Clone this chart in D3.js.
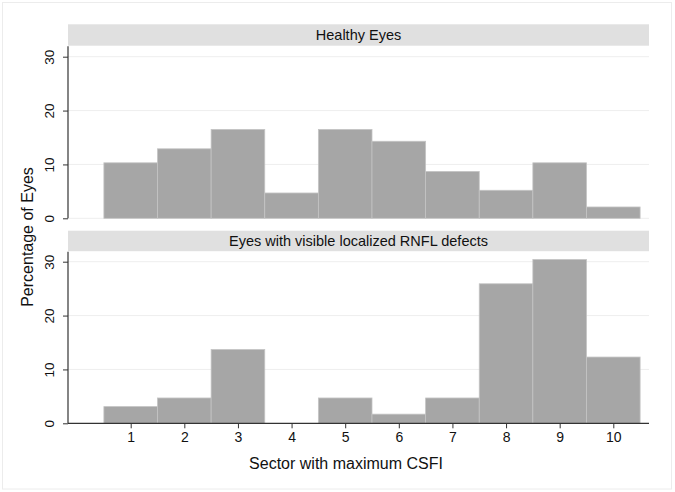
<!DOCTYPE html>
<html><head><meta charset="utf-8">
<script src="https://cdn.jsdelivr.net/npm/d3@7"></script>
<style>body{margin:0;background:#fff}svg{display:block}</style>
</head><body>
<script>
const sectors = [1,2,3,4,5,6,7,8,9,10];
const healthy = [10.3, 12.9, 16.5, 4.7, 16.5, 14.3, 8.7, 5.2, 10.3, 2.1];
const defects = [3.1, 4.7, 13.7, 0, 4.7, 1.7, 4.7, 25.9, 30.4, 12.3];
const yTicks = [0, 10, 20, 30];
const panelTitles = ["Healthy Eyes", "Eyes with visible localized RNFL defects"];

const W = 675, H = 492;
const font = "'Liberation Sans', Arial, Helvetica, sans-serif";
const svg = d3.select("body").append("svg").attr("width", W).attr("height", H);

svg.append("rect").attr("x", 2.5).attr("y", 2.5).attr("width", 669).attr("height", 486.5)
  .attr("fill", "#fff").attr("stroke", "#ececec");

const left = 68, right = 649;
const x = d3.scaleLinear().domain([1, 10]).range([130.7, 613.3]);

const panels = [
  {data: healthy, title: panelTitles[0], stripTop: 24.3, stripBot: 45.7, y0: 218.3, y30: 56.7, xaxis: false},
  {data: defects, title: panelTitles[1], stripTop: 230.7, stripBot: 251.2, y0: 423.3, y30: 261.7, xaxis: true}
];

panels.forEach(p => {
  const y = d3.scaleLinear().domain([0, 30]).range([p.y0, p.y30]);
  const g = svg.append("g");
  g.append("rect").attr("x", left).attr("y", p.stripTop).attr("width", right - left)
    .attr("height", p.stripBot - p.stripTop).attr("fill", "#e0e0e0");
  g.append("text").attr("x", (left + right) / 2).attr("y", (p.stripTop + p.stripBot) / 2 + 5)
    .attr("text-anchor", "middle").attr("font-family", font).attr("font-size", 14.5)
    .attr("fill", "#111").text(p.title);
  g.selectAll(".grid").data(yTicks.filter(t => p.xaxis ? t > 0 : true)).enter().append("line")
    .attr("x1", left).attr("x2", right).attr("y1", d => y(d)).attr("y2", d => y(d))
    .attr("stroke", "#eeeeee").attr("stroke-width", 1);
  g.selectAll(".bar").data(sectors).enter().append("rect")
    .attr("x", d => x(d - 0.5)).attr("width", d => x(d + 0.5) - x(d - 0.5))
    .attr("y", (d, i) => y(p.data[i])).attr("height", (d, i) => y(0) - y(p.data[i]))
    .attr("fill", "#a6a6a6").attr("stroke", "#c4c4c4").attr("stroke-width", 0.8);
  const ya = g.append("g").attr("transform", `translate(${left},0)`)
    .call(d3.axisLeft(y).tickValues(yTicks).tickSize(5).tickPadding(4).tickSizeOuter(0));
  ya.select(".domain").remove();
  ya.selectAll(".tick line").attr("stroke", "#333");
  ya.selectAll(".tick text").attr("font-family", font).attr("font-size", 13.5).attr("fill", "#111")
    .attr("transform", "rotate(-90)").attr("text-anchor", "middle")
    .attr("x", 0).attr("y", -18).attr("dy", "0.32em");
  g.append("line").attr("x1", left).attr("x2", left).attr("y1", p.stripBot + 0.5).attr("y2", p.y0)
    .attr("stroke", "#333").attr("stroke-width", 1.2);
  if (p.xaxis) {
    g.append("line").attr("x1", left).attr("x2", right).attr("y1", p.y0).attr("y2", p.y0)
      .attr("stroke", "#333").attr("stroke-width", 1.2);
    const xa = g.append("g").attr("transform", `translate(0,${p.y0})`)
      .call(d3.axisBottom(x).tickValues(sectors).tickSize(5).tickPadding(4).tickFormat(d3.format("d")));
    xa.select(".domain").remove();
    xa.selectAll(".tick line").attr("stroke", "#333");
    xa.selectAll(".tick text").attr("font-family", font).attr("font-size", 14).attr("fill", "#111");
  }
});

svg.append("text").attr("x", 346).attr("y", 469).attr("text-anchor", "middle")
  .attr("font-family", font).attr("font-size", 16).attr("fill", "#111").text("Sector with maximum CSFI");
svg.append("text").attr("transform", "translate(33,237) rotate(-90)").attr("text-anchor", "middle")
  .attr("font-family", font).attr("font-size", 16).attr("fill", "#111").text("Percentage of Eyes");
</script>
</body></html>
